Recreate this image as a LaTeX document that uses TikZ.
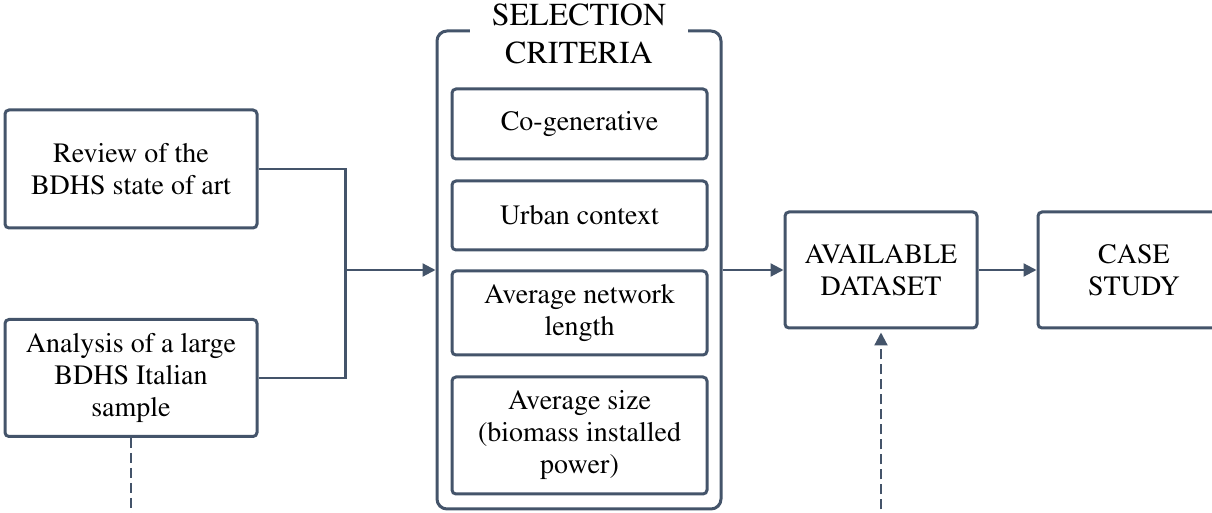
\documentclass[tikz,border=0pt]{standalone}
\usepackage[T1]{fontenc}
\usepackage{mathptmx}
\usepackage{xcolor}
\definecolor{LINECOLOR}{HTML}{44546A}
\usepackage{tikz}
\usetikzlibrary{arrows.meta,positioning,calc}
\tikzset{
  box-style/.style = {
    rectangle, rounded corners=2pt, draw=LINECOLOR, line width=1.5pt,
    fill=white, align=center, inner sep=2pt,
    minimum width=#1,
    font=\fontsize{14}{16}\selectfont
  },
  box-style/.default = 126pt,
  crit-style/.style = {
    box-style=127.5pt
  },
  frame-style/.style = {
    rectangle, rounded corners=5pt, draw=LINECOLOR, line width=1.5pt,
    minimum width=142pt, minimum height=239pt
  },
  title-style/.style = {
    fill=white, align=center, inner sep=0pt, minimum width=109pt,
    font=\fontsize{16}{19}\selectfont
  },
  link-style/.style = {draw=LINECOLOR, line width=1.1pt},
  arrow-style/.style = {link-style, -{Triangle[length=6.5pt,width=6.5pt]}},
  dash-style/.style = {link-style, dash pattern=on 5pt off 2.5pt}
}

\begin{document}
\begin{tikzpicture}[x=0.5pt,y=-0.5pt]
    \useasboundingbox (0,0) rectangle (1212,513);
    \clip (0,0) rectangle (1212,513);

    %%% inputs
    \node[box-style, minimum height=59pt] (review) at (131,169) {Review of the\\BDHS state of art};
    \node[box-style, minimum height=58.5pt] (analysis) at (131,378) {Analysis of a large\\BDHS Italian\\sample};

    %%% selection criteria
    \node[frame-style] (frame) at (579,270) {};
    \node[title-style] (title) at (579,34) {SELECTION\\CRITERIA};
    \node[crit-style, minimum height=35pt] (crit1) at (579.5,124) {Co-generative};
    \node[crit-style, minimum height=34.5pt, below=9.5pt of crit1] (crit2) {Urban context};
    \node[crit-style, minimum height=42pt, below=9pt of crit2] (crit3) {Average network\\length};
    \node[crit-style, minimum height=58.5pt, below=9.5pt of crit3] (crit4) {Average size\\(biomass installed\\power)};

    %%% outputs
    \node[box-style=96pt, minimum height=58pt] (dataset) at (881,270) {AVAILABLE\\DATASET};
    \node[box-style=96pt, minimum height=58pt, right=29pt of dataset] (study) {CASE\\STUDY};

    %%% free ends
    \coordinate (join) at ([xshift=-45pt]frame.west);
    \coordinate (tail) at ([yshift=-60pt]analysis.south);
    \coordinate (feed) at ([yshift=-120pt]dataset.south);

    %%% arrows
    % inputs to criteria
    \draw[link-style] (review.east) -| (join);
    \draw[link-style] (analysis.east) -| (join);
    \draw[arrow-style] (join) -- (frame.west);
    % criteria to dataset to case study
    \draw[arrow-style] (frame.east) -- (dataset.west);
    \draw[arrow-style] (dataset.east) -- (study.west);
    % dashed links
    \draw[dash-style] (analysis.south) -- (tail);
    \draw[arrow-style, dash-style, shorten >=1.5pt] (feed) -- (dataset.south);
\end{tikzpicture}
\end{document}
